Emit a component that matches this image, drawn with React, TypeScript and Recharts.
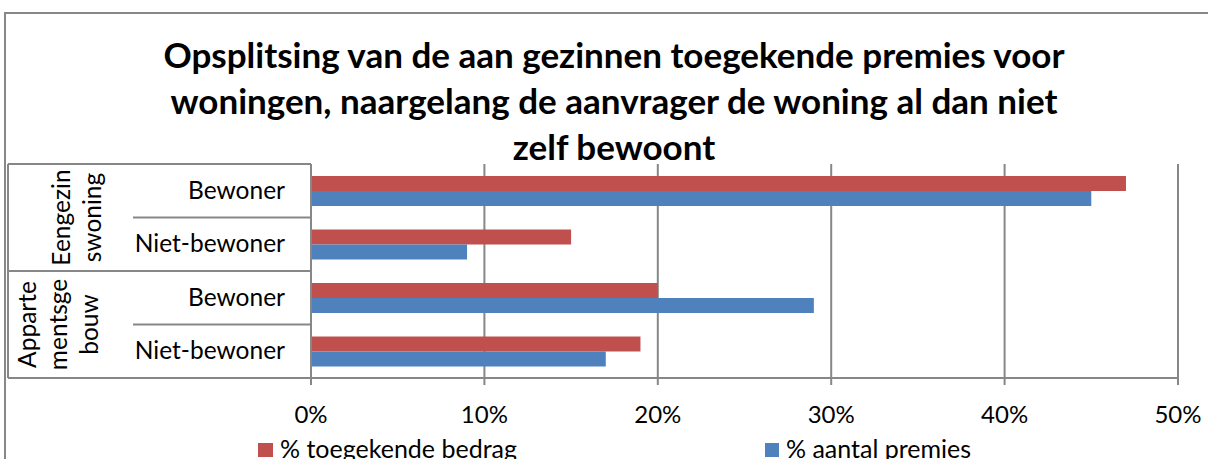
import { BarChart, Bar, XAxis, YAxis, CartesianGrid, Legend } from "recharts";

const categories = ["Bewoner", "Niet-bewoner", "Bewoner", "Niet-bewoner"];
const groupOfRow = [0, 0, 1, 1];
const groupLabels = [
  ["Eengezin", "swoning"],
  ["Apparte", "mentsge", "bouw"],
];
const toegekendeBedrag = [47, 15, 20, 19];
const aantalPremies = [45, 9, 29, 17];
const xTicks = [0, 10, 20, 30, 40, 50];

const titleLines = [
  "Opsplitsing van de aan gezinnen toegekende premies voor",
  "woningen, naargelang de aanvrager de woning al dan niet",
  "zelf bewoont",
];

const W = 1208;
const H = 459;
const TOP = 164;
const BOTTOM_Y = 378;
const LEFT = 311;
const ROW = (BOTTOM_Y - TOP) / categories.length;
const FONT = "Lato, 'Liberation Sans', sans-serif";
const GRID = "#878787";
const RED = "#C0504D";
const BLUE = "#4F81BD";
// baselines (screen x) of the rotated group label lines
const groupBaselines = [
  [70, 101],
  [36, 67, 98],
];

const data = categories.map((sub, i) => ({
  key: String(i),
  sub,
  bedrag: toegekendeBedrag[i],
  premies: aantalPremies[i],
}));

function CatTick(props: any) {
  const { y, payload } = props;
  const i = Number(payload.value);
  const g = groupOfRow[i];
  const first = i === 0 || groupOfRow[i - 1] !== g;
  const last = i === categories.length - 1;
  const top = y - ROW / 2;
  let groupBlock = null;
  if (first) {
    const rowsInGroup = groupOfRow.filter((v) => v === g).length;
    const cy = top + (rowsInGroup * ROW) / 2;
    groupBlock = groupLabels[g].map((l, k) => (
      <text
        key={k}
        transform={`translate(${groupBaselines[g][k]}, ${cy}) rotate(-90)`}
        x={0}
        y={0}
        textAnchor="middle"
        fontSize={24.5}
        fontFamily={FONT}
        fill="#000"
      >
        {l}
      </text>
    ));
  }
  return (
    <g>
      <text x={285} y={y + 8} textAnchor="end" fontSize={24.5} fontFamily={FONT} fill="#000">
        {categories[i]}
      </text>
      <line x1={first ? 8 : 133} x2={LEFT} y1={top} y2={top} stroke={GRID} strokeWidth={2} />
      {last && <line x1={8} x2={LEFT} y1={top + ROW} y2={top + ROW} stroke={GRID} strokeWidth={2} />}
      {i === 0 && <line x1={8} x2={8} y1={TOP} y2={BOTTOM_Y} stroke={GRID} strokeWidth={2} />}
      {groupBlock}
    </g>
  );
}

function LegendContent() {
  return (
    <div style={{ position: "relative", width: W, height: 30, fontFamily: FONT, fontSize: 25 }}>
      <span style={{ position: "absolute", left: 258, top: 15, width: 15, height: 14, background: RED }} />
      <span style={{ position: "absolute", left: 280, top: 5, lineHeight: "30px", whiteSpace: "nowrap" }}>
        % toegekende bedrag
      </span>
      <span style={{ position: "absolute", left: 765, top: 15, width: 14, height: 14, background: BLUE }} />
      <span style={{ position: "absolute", left: 786, top: 5, lineHeight: "30px", whiteSpace: "nowrap" }}>
        % aantal premies
      </span>
    </div>
  );
}

export default function App() {
  return (
    <div style={{ position: "absolute", left: 0, top: 0, width: W, height: H, overflow: "hidden", background: "#fff" }}>
      <div
        style={{
          position: "absolute",
          left: 4,
          top: 12,
          width: W + 40,
          height: H + 40,
          border: `2px solid ${GRID}`,
          boxSizing: "border-box",
        }}
      />
      <BarChart
        width={W}
        height={H}
        data={data}
        layout="vertical"
        margin={{ top: TOP, right: W - 1178, bottom: 0, left: 0 }}
        barSize={15}
        barGap={0}
        style={{ position: "absolute", left: 0, top: 0 }}
      >
        <CartesianGrid horizontal={false} stroke={GRID} strokeWidth={2} strokeDasharray="" />
        <XAxis
          type="number"
          domain={[0, 50]}
          ticks={xTicks}
          tickFormatter={(v) => `${v}%`}
          axisLine={{ stroke: GRID, strokeWidth: 2 }}
          tickLine={{ stroke: GRID, strokeWidth: 2 }}
          tickSize={7}
          height={51}
          tick={{ fontSize: 24, fontFamily: FONT, fill: "#000", dy: 19 }}
          interval={0}
        />
        <YAxis
          type="category"
          dataKey="key"
          width={LEFT}
          axisLine={{ stroke: GRID, strokeWidth: 2 }}
          tickLine={false}
          tick={<CatTick />}
          interval={0}
        />
        <Legend content={<LegendContent />} wrapperStyle={{ position: "absolute", left: 0, top: 428, width: W, height: 30 }} />
        <Bar dataKey="bedrag" fill={RED} isAnimationActive={false} />
        <Bar dataKey="premies" fill={BLUE} isAnimationActive={false} />
      </BarChart>
      <div
        style={{
          position: "absolute",
          left: 4,
          width: 1220,
          top: 31,
          textAlign: "center",
          fontFamily: FONT,
          fontWeight: 700,
          fontSize: 35,
          lineHeight: "46px",
          color: "#000",
        }}
      >
        {titleLines.map((l, k) => (
          <div key={k}>{l}</div>
        ))}
      </div>
    </div>
  );
}
